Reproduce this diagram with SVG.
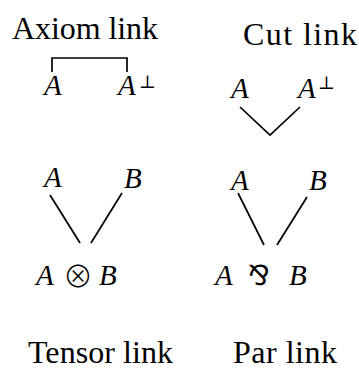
<svg xmlns="http://www.w3.org/2000/svg" width="359" height="369" viewBox="0 0 359 369">
<style>
.lbl{font-family:"Liberation Serif","DejaVu Serif",serif;font-size:32px;fill:#000}
.m{font-family:"Liberation Serif","DejaVu Serif",serif;font-style:italic;font-size:29px;fill:#000}
.op{font-family:"DejaVu Sans","DejaVu Serif",sans-serif;font-size:28px;fill:#000}
.ot{font-family:"Noto Sans CJK JP","DejaVu Sans",sans-serif;font-size:30px;font-weight:300;fill:#000}
.sup{font-family:"DejaVu Serif","DejaVu Sans",serif;font-size:18px;fill:#000}
.ln{stroke:#000;stroke-width:1.7;fill:none}
</style>
<rect width="359" height="369" fill="#fff"/>
<g id="connectors">
<path class="ln" d="M52,72 V58 H127 V72"/>
<path class="ln" d="M240,107 L270,135 L300,107"/>
<path class="ln" d="M50,195 L80,243"/>
<path class="ln" d="M122,193 L91,243"/>
<path class="ln" d="M238,193 L264,245"/>
<path class="ln" d="M307,197 L277,245"/>
</g>
<g id="axiom-label"><text class="lbl" x="12" y="39" textLength="146" lengthAdjust="spacing">Axiom link</text></g>
<g id="cut-label"><text class="lbl" x="243" y="45" textLength="114" lengthAdjust="spacing">Cut link</text></g>
<g id="axiom-A"><text class="m" x="44" y="95">A</text></g>
<g id="axiom-Aperp"><text class="m" x="118" y="95">A</text><text class="sup" x="139" y="88">⊥</text></g>
<g id="cut-A"><text class="m" x="231" y="98">A</text></g>
<g id="cut-Aperp"><text class="m" x="298" y="98">A</text><text class="sup" x="318" y="89">⊥</text></g>
<g id="tensor-A"><text class="m" x="44" y="187">A</text></g>
<g id="tensor-B"><text class="m" x="124" y="188">B</text></g>
<g id="tensor-AB"><text class="m" x="36" y="285">A</text><text class="ot" x="63" y="287">⊗</text><text class="m" x="99" y="285">B</text></g>
<g id="par-A"><text class="m" x="231" y="190">A</text></g>
<g id="par-B"><text class="m" x="309" y="190">B</text></g>
<g id="par-AB"><text class="m" x="215" y="285">A</text><text class="op" x="248" y="285">⅋</text><text class="m" x="289" y="285">B</text></g>
<g id="tensor-label"><text class="lbl" x="28" y="363" textLength="145" lengthAdjust="spacing">Tensor link</text></g>
<g id="par-label"><text class="lbl" x="233" y="363" textLength="104" lengthAdjust="spacing">Par link</text></g>
</svg>
